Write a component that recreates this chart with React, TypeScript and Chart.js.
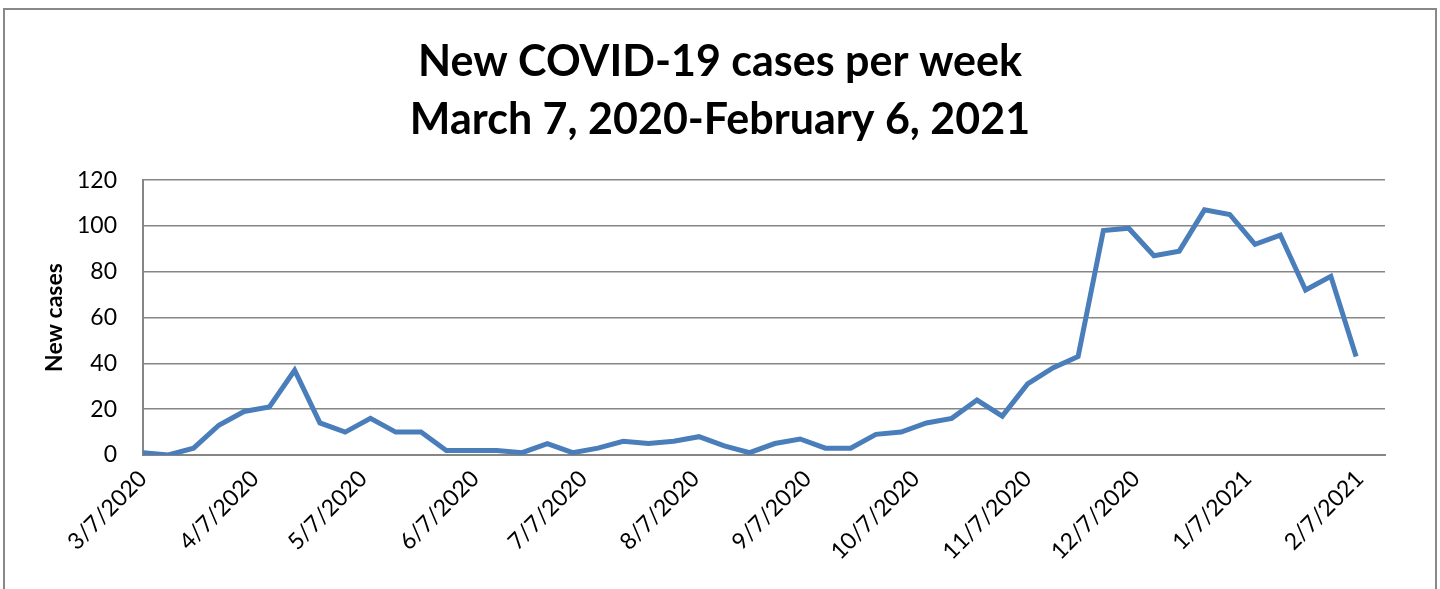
import React, { useEffect, useRef } from "react";
import { Chart, registerables } from "chart.js";

Chart.register(...registerables);

const WEEKS = [
  "3/7/2020", "3/14/2020", "3/21/2020", "3/28/2020",
  "4/4/2020", "4/11/2020", "4/18/2020", "4/25/2020",
  "5/2/2020", "5/9/2020", "5/16/2020", "5/23/2020", "5/30/2020",
  "6/6/2020", "6/13/2020", "6/20/2020", "6/27/2020",
  "7/4/2020", "7/11/2020", "7/18/2020", "7/25/2020",
  "8/1/2020", "8/8/2020", "8/15/2020", "8/22/2020", "8/29/2020",
  "9/5/2020", "9/12/2020", "9/19/2020", "9/26/2020",
  "10/3/2020", "10/10/2020", "10/17/2020", "10/24/2020", "10/31/2020",
  "11/7/2020", "11/14/2020", "11/21/2020", "11/28/2020",
  "12/5/2020", "12/12/2020", "12/19/2020", "12/26/2020",
  "1/2/2021", "1/9/2021", "1/16/2021", "1/23/2021", "1/30/2021",
  "2/6/2021",
];

const NEW_CASES = [
  1, 0, 3, 13, 19, 21, 37, 14, 10, 16,
  10, 10, 2, 2, 2, 1, 5, 1, 3, 6,
  5, 6, 8, 4, 1, 5, 7, 3, 3, 9,
  10, 14, 16, 24, 17, 31, 38, 43, 98, 99,
  87, 89, 107, 105, 92, 96, 72, 78, 43,
];

const X_TICKS = [
  "3/7/2020", "4/7/2020", "5/7/2020", "6/7/2020", "7/7/2020", "8/7/2020",
  "9/7/2020", "10/7/2020", "11/7/2020", "12/7/2020", "1/7/2021", "2/7/2021",
];
const AXIS_END = "2/14/2021";

const TITLE_LINES = ["New COVID-19 cases per week", "March 7, 2020-February 6, 2021"];
const Y_TITLE = "New cases";

const FONT = "Lato, 'Open Sans', sans-serif";
const GRID = "#868686";
const LINE = "#4A7EBB";

function toDay(s: string): number {
  const [m, d, y] = s.split("/").map(Number);
  return Date.UTC(y, m - 1, d) / 86400000;
}

const frameBorder = {
  id: "frameBorder",
  afterLayout(chart: any) {
    // centre the title over the whole chart box, as in the reference
    if (chart.titleBlock) {
      chart.titleBlock.left = 0;
      chart.titleBlock.right = chart.width;
      chart.titleBlock.width = chart.width;
    }
  },
  beforeDraw(chart: any) {
    const ctx = chart.ctx;
    ctx.save();
    ctx.fillStyle = "#ffffff";
    ctx.fillRect(0, 0, chart.width, chart.height);
    ctx.strokeStyle = "#888888";
    ctx.lineWidth = 2;
    ctx.strokeRect(4, 9, 1432, 700);
    ctx.restore();
  },
};

export default function App() {
  const ref = useRef<HTMLCanvasElement | null>(null);

  useEffect(() => {
    if (!ref.current) return;
    const chart = new Chart(ref.current, {
      type: "line",
      data: {
        datasets: [
          {
            label: Y_TITLE,
            data: WEEKS.map((w, i) => ({ x: toDay(w), y: NEW_CASES[i] })),
            borderColor: LINE,
            backgroundColor: LINE,
            borderWidth: 5,
            pointRadius: 0,
            tension: 0,
            fill: false,
          },
        ],
      },
      plugins: [frameBorder],
      options: {
        animation: false,
        responsive: false,
        maintainAspectRatio: false,
        layout: { padding: { left: 0, right: 55, top: 0, bottom: 0 } },
        plugins: {
          legend: { display: false },
          tooltip: { enabled: false },
          title: {
            display: true,
            text: TITLE_LINES,
            color: "#000",
            font: { family: FONT, size: 43, weight: "bold", lineHeight: 1.35 },
            padding: { top: 33, bottom: 31 },
          },
        },
        scales: {
          x: {
            type: "linear",
            min: toDay(WEEKS[0]),
            max: toDay(AXIS_END),
            afterBuildTicks: (scale: any) => {
              scale.ticks = X_TICKS.map((t) => ({ value: toDay(t) }));
            },
            afterFit: (scale: any) => {
              scale.height = 134;
            },
            grid: { display: false, drawTicks: false },
            border: { display: true, color: GRID, width: 2 },
            ticks: {
              autoSkip: false,
              maxRotation: 45,
              minRotation: 45,
              padding: 10,
              color: "#000",
              font: { family: FONT, size: 23 },
              callback: (_v: any, i: number) => X_TICKS[i],
            },
          },
          y: {
            min: 0,
            max: 120,
            afterFit: (scale: any) => {
              scale.width = 143;
            },
            grid: { color: GRID, lineWidth: 1.5, drawTicks: false },
            border: { display: true, color: GRID, width: 2 },
            ticks: {
              stepSize: 20,
              padding: 26,
              color: "#000",
              font: { family: FONT, size: 23 },
            },
            title: {
              display: true,
              text: Y_TITLE,
              color: "#000",
              font: { family: FONT, size: 23, weight: "bold" },
              padding: { top: 41, bottom: 0 },
            },
          },
        },
      },
    } as any);
    return () => chart.destroy();
  }, []);

  return (
    <div style={{ position: "fixed", left: 0, top: 0, width: 1440, height: 589, background: "#fff" }}>
      <canvas ref={ref} width={1440} height={589} style={{ display: "block", width: 1440, height: 589 }} />
    </div>
  );
}
